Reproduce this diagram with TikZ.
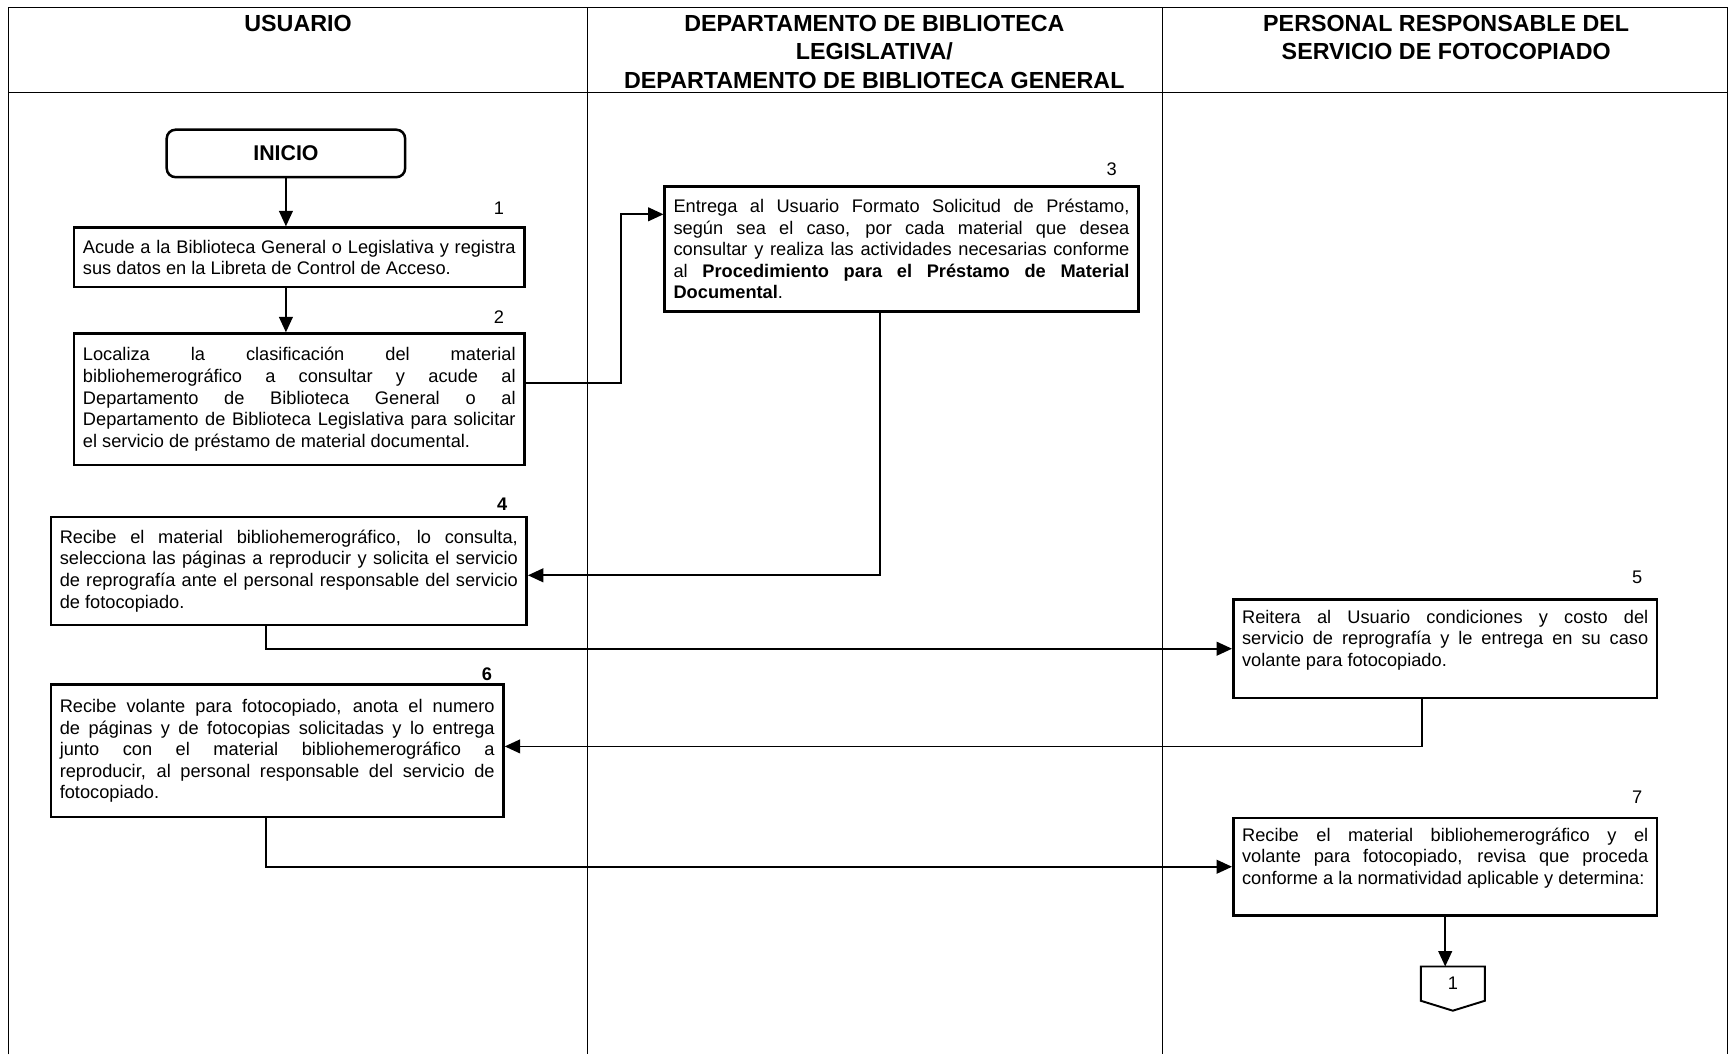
\documentclass[tikz,border=0pt]{standalone}
\usepackage{fontspec}
\setmainfont{Liberation Sans}
\usetikzlibrary{arrows.meta}
\tolerance=10000
\hyphenpenalty=10000

\begin{document}
\begin{tikzpicture}[x=.02cm,y=-.02cm,line width=.6pt,font=\fontsize{9.4}{11.1}\selectfont,
  caja/.style={draw,line width=1.3pt,anchor=north west,align=justify,inner xsep=.16cm,inner ysep=0pt},
  flecha/.style={line width=.9pt,-{Triangle[length=.28cm,width=.25cm]}},
  titulo/.style={font=\fontsize{12}{14.7}\selectfont\bfseries,align=center,anchor=north,inner sep=0pt}]
\useasboundingbox (0,0) rectangle (1568,955);
% marco y carriles
\draw (8,955)--(8,7)--(1565,7)--(1565,955) (8,84)--(1565,84);
\foreach \x in {532,1053}{\draw (\x,7)--(\x,955);}
\node[titulo] (tu) at (270,13) {USUARIO};
\node[titulo] (td) at (792,13) {DEPARTAMENTO DE BIBLIOTECA\\LEGISLATIVA/\\DEPARTAMENTO DE BIBLIOTECA GENERAL};
\node[titulo] (tp) at (1310,13) {PERSONAL RESPONSABLE DEL\\SERVICIO DE FOTOCOPIADO};
% pasos
\node[draw,line width=1.3pt,rounded corners=.16cm,minimum width=4.32cm,minimum height=.86cm,font=\fontsize{11}{13}\selectfont\bfseries] (inicio) at (259,139) {INICIO};
\node[caja,text width=7.84cm,minimum height=1.08cm] (p1) at (66,205) {Acude a la Biblioteca General o Legislativa y registra\linebreak sus datos en la Libreta de Control de Acceso.};
\node[caja,text width=7.84cm,minimum height=2.38cm] (p2) at (66,301) {Localiza la clasificación del material\linebreak bibliohemerográfico a consultar y acude al\linebreak Departamento de Biblioteca General o al\linebreak Departamento de Biblioteca Legislativa para solicitar\linebreak el servicio de préstamo de material documental.};
\node[caja,text width=8.26cm,minimum height=2.26cm] (p3) at (601,168) {Entrega al Usuario Formato Solicitud de Préstamo,\linebreak según sea el caso, por cada material que desea\linebreak consultar y realiza las actividades necesarias conforme\linebreak al \textbf{Procedimiento para el Préstamo de Material}\linebreak \textbf{Documental}.};
\node[caja,text width=8.30cm,minimum height=1.96cm] (p4) at (45,467) {Recibe el material bibliohemerográfico, lo consulta,\linebreak selecciona las páginas a reproducir y solicita el servicio\linebreak de reprografía ante el personal responsable del servicio\linebreak de fotocopiado.};
\node[caja,text width=7.36cm,minimum height=1.78cm] (p5) at (1116,542) {Reitera al Usuario condiciones y costo del\linebreak servicio de reprografía y le entrega en su caso\linebreak volante para fotocopiado.\newline\mbox{}};
\node[caja,text width=7.88cm,minimum height=2.40cm] (p6) at (45,619) {Recibe volante para fotocopiado, anota el numero\linebreak de páginas y de fotocopias solicitadas y lo entrega\linebreak junto con el material bibliohemerográfico a\linebreak reproducir, al personal responsable del servicio de\linebreak fotocopiado.};
\node[caja,text width=7.36cm,minimum height=1.76cm] (p7) at (1116,740) {Recibe el material bibliohemerográfico y el\linebreak volante para fotocopiado, revisa que proceda\linebreak conforme a la normatividad aplicable y determina:\newline\mbox{}};
\node[minimum width=1.14cm,minimum height=.6cm,inner sep=0pt] (c1) at (1316,891) {\raisebox{-.08cm}{1}};
\draw[line width=1pt] (c1.north west)--(c1.north east)--(c1.south east)--([yshift=-.18cm]c1.south)--(c1.south west)--cycle;
% numeros
\node (n1) at (452,189) {1};
\node (n2) at (452,287) {2};
\node (n3) at (1007,153) {3};
\node[font=\fontsize{9.4}{11.1}\selectfont\bfseries] (n4) at (455,457) {4};
\node (n5) at (1483,523) {5};
\node[font=\fontsize{9.4}{11.1}\selectfont\bfseries] (n6) at (441,611) {6};
\node (n7) at (1483,722) {7};
% flujo
\draw[flecha] (inicio.south) -- (inicio.south |- p1.north);
\draw[flecha] (inicio.south |- p1.south) -- (inicio.south |- p2.north);
\draw[flecha] ([yshift=.29cm]p2.east) -- ++(86,0) |- ([yshift=.63cm]p3.west);
\draw[flecha] ([xshift=-.39cm]p3.south) |- ([yshift=-.08cm]p4.east);
\draw[flecha] ([xshift=-.41cm]p4.south) |- (p5.west);
\draw[flecha] ([xshift=-.42cm]p5.south) |- ([yshift=.08cm]p6.east);
\draw[flecha] ([xshift=-.2cm]p6.south) |- (p7.west);
\draw[flecha] (p7.south) -- (p7.south |- c1.north);
\end{tikzpicture}
\end{document}
